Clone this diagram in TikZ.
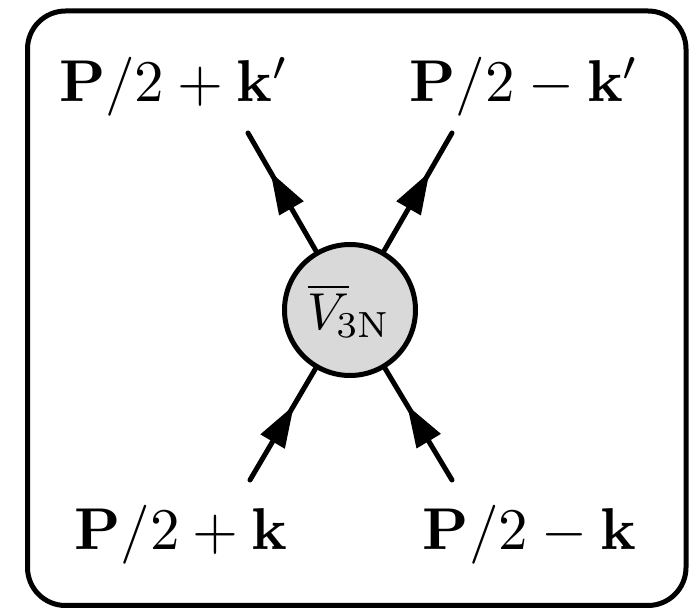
\documentclass[tikz,border=0pt]{standalone}
\usepackage{graphicx}
\usetikzlibrary{arrows.meta,decorations.markings}
\definecolor{vfill}{HTML}{D9D9D9}
\newcommand{\bigtxt}[1]{\scalebox{5.9}{$#1$}}
\begin{document}
\begin{tikzpicture}[x=1pt,y=-1pt,
  frame/.style={line width=5pt,rounded corners=38pt},
  leg/.style={line width=5pt,line cap=round,
    decoration={markings,mark=at position 0.67 with {\arrow{Triangle[length=42pt,width=27pt]}}},
    postaction=decorate},
  lab/.style={anchor=base,inner sep=0pt},
  vert/.style={circle,draw,line width=5pt,fill=vfill,minimum size=131pt,inner sep=0pt}]
\useasboundingbox (0,0) rectangle (697,609);
\draw[frame] (27.5,11) rectangle (686,605.5);
\coordinate (ul) at (248,133);
\coordinate (ur) at (452,133);
\coordinate (dl) at (250,480);
\coordinate (dr) at (452,480);
\node[vert] (v) at (350,310) {};
\draw[leg] (v) -- (ul);
\draw[leg] (v) -- (ur);
\draw[leg] (dl) -- (v);
\draw[leg] (dr) -- (v);
\node[lab] (vl) at (349,330) {\scalebox{5.2}{$\overline{V}_{\kern-0.25em\mathrm{3N}}$}};
\node[lab] (tl) at (174,102) {\bigtxt{\mathbf{P}/2+\mathbf{k}'}};
\node[lab] (tr) at (524.5,102) {\bigtxt{\mathbf{P}/2-\mathbf{k}'}};
\node[lab] (bl) at (181,550) {\bigtxt{\mathbf{P}/2+\mathbf{k}}};
\node[lab] (br) at (529.5,550) {\bigtxt{\mathbf{P}/2-\mathbf{k}}};
\end{tikzpicture}
\end{document}
